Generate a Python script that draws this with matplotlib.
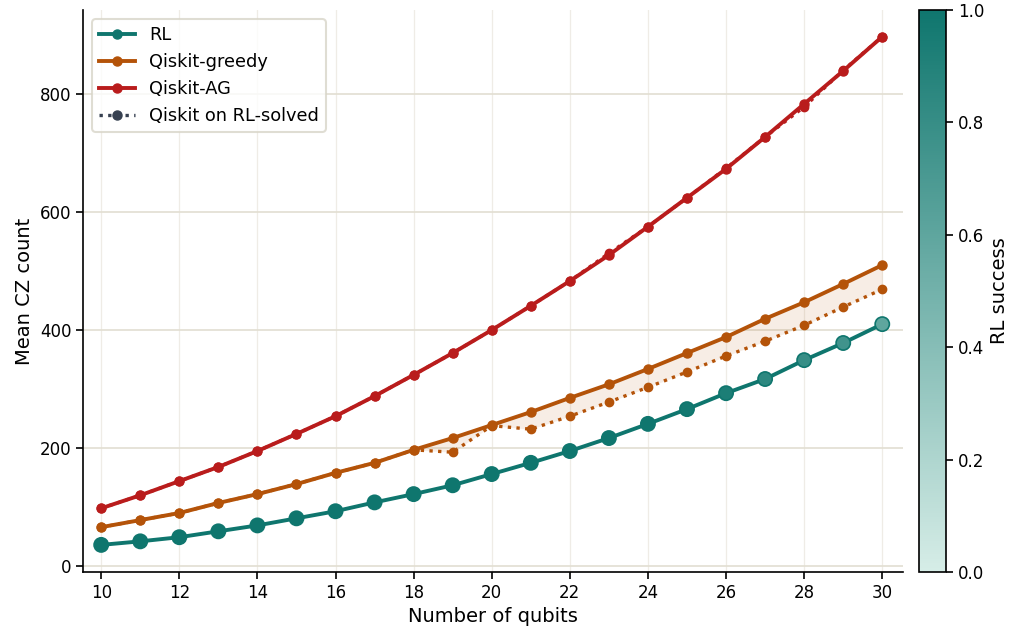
import numpy as np
import matplotlib
matplotlib.use("Agg")
import matplotlib.pyplot as plt
from matplotlib.colors import LinearSegmentedColormap, Normalize
from matplotlib.cm import ScalarMappable
from matplotlib.lines import Line2D

qubits = list(range(10, 31))
rl = [36, 42, 49, 59, 69, 81, 93, 108, 122, 137, 156, 175, 195, 217, 241, 266, 293, 317, 349, 378, 410]
greedy = [66, 78, 90, 107, 122, 139, 158, 175, 197, 217, 239, 261, 285, 308, 334, 361, 388, 419, 447, 478, 510]
greedy_on_rl = [66, 78, 90, 107, 122, 139, 158, 175, 197, 193, 238, 232, 254, 278, 303, 329, 356, 381, 408, 439, 469]
ag = [98, 120, 144, 168, 195, 224, 254, 288, 324, 361, 400, 441, 483, 527, 575, 624, 673, 727, 783, 839, 897]
ag_on_rl = [98, 120, 144, 168, 195, 224, 254, 288, 324, 361, 400, 441, 483, 530, 575, 624, 674, 727, 778, 840, 897]
rl_success = [1.0, 1.0, 1.0, 1.0, 1.0, 1.0, 1.0, 1.0, 1.0, 1.0, 1.0, 1.0, 1.0, 1.0, 1.0, 0.97, 0.93, 0.85, 0.8, 0.75, 0.6]

TEAL = "#0f766e"
ORANGE = "#b45309"
RED = "#b91c1c"
SLATE = "#374151"
GRID = "#e2ded2"

cmap = LinearSegmentedColormap.from_list("rl", ["#d6ede7", TEAL])
norm = Normalize(0, 1)

fig = plt.figure(figsize=(10.15, 6.3), dpi=100)
ax = fig.add_axes([0.082, 0.092, 0.808, 0.892])
cax = fig.add_axes([0.905, 0.092, 0.027, 0.892])

x = np.array(qubits)
ax.set_axisbelow(True)
ax.grid(axis="y", color=GRID, lw=1.2)
ax.grid(axis="x", color="#efece6", lw=0.9)

ax.fill_between(x, greedy, greedy_on_rl, color=ORANGE, alpha=0.1, lw=0)

ax.plot(x, ag, color=RED, lw=2.8, marker="o", ms=6.5, zorder=3)
ax.plot(x, ag_on_rl, color=RED, lw=2.4, ls=(0, (1, 1.6)), marker="o", ms=6, zorder=3)
ax.plot(x, greedy, color=ORANGE, lw=2.8, marker="o", ms=6.5, zorder=3)
ax.plot(x, greedy_on_rl, color=ORANGE, lw=2.4, ls=(0, (1, 1.6)), marker="o", ms=6, zorder=3)
ax.plot(x, rl, color=TEAL, lw=2.8, zorder=4)
ax.scatter(x, rl, c=rl_success, cmap=cmap, norm=norm, s=105, edgecolors=TEAL, linewidths=1.2, zorder=5)

handles = [
    Line2D([], [], color=TEAL, lw=2.8, marker="o", ms=6.5, label="RL"),
    Line2D([], [], color=ORANGE, lw=2.8, marker="o", ms=6.5, label="Qiskit-greedy"),
    Line2D([], [], color=RED, lw=2.8, marker="o", ms=6.5, label="Qiskit-AG"),
    Line2D([], [], color=SLATE, lw=2.4, ls=(0, (1, 1.6)), marker="o", ms=6.5, label="Qiskit on RL-solved"),
]
leg = ax.legend(handles=handles, loc="upper left", fontsize=12.8, frameon=True,
                bbox_to_anchor=(0.0, 1.0), borderaxespad=0.5)
leg.get_frame().set_edgecolor("#d8d5c8")
leg.get_frame().set_linewidth(1.5)

ax.set_xlim(9.54, 30.54)
ax.set_ylim(-10, 942)
ax.set_xticks(range(10, 31, 2))
ax.set_yticks([0, 200, 400, 600, 800])
ax.tick_params(labelsize=12, length=5, width=1.2)
ax.spines["top"].set_visible(False)
ax.spines["right"].set_visible(False)
ax.spines["left"].set_linewidth(1.2)
ax.spines["bottom"].set_linewidth(1.2)
ax.set_xlabel("Number of qubits", fontsize=14)
ax.set_ylabel("Mean CZ count", fontsize=14)

cb = fig.colorbar(ScalarMappable(norm=norm, cmap=cmap), cax=cax)
cb.set_ticks([0, 0.2, 0.4, 0.6, 0.8, 1.0])
cb.ax.tick_params(labelsize=12, length=5, width=1.2)
cb.outline.set_linewidth(1.2)
cb.set_label("RL success", fontsize=14)

fig.savefig("out.png", dpi=100)
